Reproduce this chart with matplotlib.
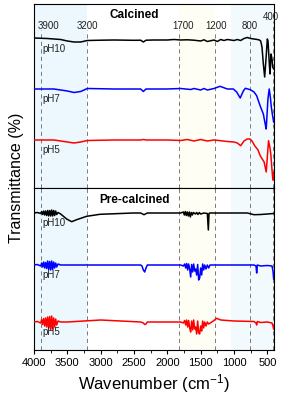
import numpy as np
import matplotlib
matplotlib.use('Agg')
import matplotlib.pyplot as plt

plt.rcParams['font.family'] = ['Liberation Sans', 'DejaVu Sans']
plt.rcParams['mathtext.default'] = 'regular'

# ---- data (relative transmittance, baseline = 0) ----
# calcined
calc_ph10_wn = [4000, 3800, 3600, 3500, 3400, 3300, 3200, 3000, 2800, 2500, 2400, 2360, 2320, 2200,
                2000, 1900, 1800, 1700, 1600, 1500, 1450, 1400, 1300, 1250, 1200, 1150, 1100, 1000,
                950, 900, 850, 800, 750, 700, 650, 620, 600, 580, 560, 540, 520, 500, 490, 470,
                460, 445, 430, 420, 405]
calc_ph10_t = [1, 0.5, -0.5, -2, -3, -3, -1.5, -1.2, -1, -1.3, -1.2, -3, -1.2, -1,
               -1, -0.5, -1, -0.8, -1.2, -2, -0.8, -2.5, -1, -2.5, -0.5, -1.5, -0.5, -1.5,
               -0.5, -1.5, 0.5, 1.5, 0.5, 0, -0.5, -1, -2, -8, -25, -38, -20, 0, -2, -25,
               -35, -15, -20, -28, -30]

calc_ph7_wn = [4000, 3700, 3500, 3400, 3300, 3200, 2800, 2400, 2360, 2320, 2000, 1800, 1650, 1600,
               1500, 1450, 1400, 1300, 1210, 1100, 1010, 960, 907, 860, 830, 755, 700, 660, 607,
               560, 532, 517, 491, 472, 455, 442, 425, 405]
calc_ph7_t = [0, 0, -2, -3.5, -2.5, 0.5, 0, 0, -2.5, 0, 0, 0.5, -0.5, 0.5,
              -1, 0.5, -1, 0.5, 2.7, 0, 0, -3, -9, -2, 0.7, -0.7, -3, -6.7, -17,
              -25, -35, -40, -10, 0, -8, -17, -25, -33]

calc_ph5_wn = [4000, 3700, 3500, 3400, 3300, 3200, 2800, 2400, 2360, 2320, 2000, 1800, 1700, 1600,
               1500, 1400, 1300, 1200, 1100, 1000, 950, 900, 850, 800, 760, 730, 690, 640, 607,
               548, 517, 482, 460, 447, 430, 417, 405]
calc_ph5_t = [0, 0, -2, -3, -2, -0.5, 0, 0, 0.5, 0, 0, -0.5, 0.5, -1,
              0.5, -1, 0, -0.7, -1.5, -2, -3, -5.7, -1, 1, 1, -1, -5.7, -10, -15.7,
              -22, -32, -0.7, -8, -15, -30, -40, -33]

# pre-calcined
pre_ph10_wn = [4000, 3950, 3900, 3885, 3870, 3855, 3840, 3825, 3810, 3795, 3780, 3765, 3750, 3735,
               3720, 3705, 3690, 3675, 3660, 3640, 3600, 3510, 3435, 3360, 3210, 3010, 2510, 2400,
               2350, 2300, 1800, 1760, 1745, 1730, 1715, 1700, 1685, 1670, 1655, 1640, 1625, 1610,
               1580, 1560, 1540, 1520, 1500, 1450, 1400, 1385, 1375, 1365, 1300, 800, 700, 600,
               500, 405]
pre_ph10_t = [0, 0.5, -0.5, 1.5, -1.5, 2, -2, 2, -2.5, 2.5, -3, 2.5, -3, 3,
              -3, 2.5, -2.5, 2, -1.5, 0.5, -1, -6, -8.7, -6.7, -3.3, -1.3, 0, 0,
              -1.7, 0, 0, 1, -2, 1.5, -2.5, 1, -3, 1, -4, 0.5, -2, 0.5,
              -1, 0.5, -1.5, 0.5, -1, 0, -0.5, -17, -0.5, 0, 0, 0, -1.7, -1.5,
              -1, -0.5]

pre_ph7_wn = [4000, 3950, 3900, 3885, 3870, 3855, 3840, 3825, 3810, 3795, 3780, 3765, 3750, 3735,
              3720, 3705, 3690, 3675, 3660, 3640, 3600, 3500, 3000, 2400, 2380, 2360, 2340, 2320,
              2300, 1800, 1760, 1740, 1725, 1710, 1695, 1680, 1665, 1650, 1635, 1620, 1605, 1590,
              1575, 1560, 1545, 1530, 1515, 1500, 1485, 1470, 1455, 1440, 1420, 1400, 1380, 1360,
              1300, 1000, 700, 670, 660, 650, 600, 500, 430, 415, 405]
pre_ph7_t = [0, 0.5, -1, 2, -2, 3, -3, 2.5, -3.5, 4, -4.5, 3.5, -5, 4,
             -4.5, 3, -3, 2, -2, 1, 0, 0, 0, 0, -1, -5, -7, -3,
             0, 0, -1, 1, -3, 1.5, -5, 1, -4, -12, 0.5, -7, 1, -6,
             -4, -10, 0.5, -15, -13, -3, -10, 1, -5, 0, -4, 0, -3, 0,
             0, 0, 0, -1, -8, 0, -1, -0.5, -1, -6, -14]

pre_ph5_wn = [4000, 3950, 3900, 3885, 3870, 3855, 3840, 3825, 3810, 3795, 3780, 3765, 3750, 3735,
              3720, 3705, 3690, 3675, 3660, 3640, 3600, 3500, 3000, 2400, 2360, 2340, 2320, 2300,
              1800, 1760, 1740, 1725, 1710, 1695, 1680, 1665, 1650, 1635, 1620, 1605, 1590, 1575,
              1560, 1545, 1530, 1515, 1500, 1485, 1470, 1455, 1440, 1420, 1400, 1380, 1300, 1260,
              1200, 1000, 700, 670, 660, 650, 600, 500, 430, 415, 405]
pre_ph5_t = [0, 0.5, -1, 2.5, -2.5, 3.5, -4, 4, -5, 5, -6, 5.5, -8, 6,
             -7, 4, -5, 3, -3, 1, 0, 0, 2, 0, -1, -2.5, -2, 0,
             0, -1, 1.5, -3, 2, -5, 1.5, -6, -10, 1, -8, 2, -7, -5,
             -12, 1, -11, -12, -4, -9, 1, -6, 0, -4, 0, -2, 1.5, 3.7,
             2, 1, 0.5, -1, -3, 0.5, -0.5, 0, -1, -4, -7]

band_wn = [3900, 3200, 1830, 1285, 755, 410]
band_labels = ['3900', '3200', '1700', '1200', '800', '400']

# ---- figure ----
fig = plt.figure(figsize=(2.92, 4.06), dpi=100)
W, H = 292, 406
ax_top = fig.add_axes([34 / W, 1 - 189 / H, 240 / W, 184 / H])
ax_bot = fig.add_axes([34 / W, 1 - 351 / H, 240 / W, 162 / H], sharex=ax_top)

for ax in (ax_top, ax_bot):
    ax.axvspan(4000, 3200, color='#ecf8fd', lw=0, zorder=0)
    ax.axvspan(1830, 1285, color='#fefef5', lw=0, zorder=0)
    ax.axvspan(1050, 400, color='#f3fafd', lw=0, zorder=0)
    for s in ax.spines.values():
        s.set_linewidth(0.8)
    ax.set_yticks([])

ax_top.set_xlim(4000, 400)
ax_top.set_ylim(-189, -5)
ax_bot.set_ylim(-351, -189)

colors = {'pH10': 'black', 'pH7': '#0000ff', 'pH5': '#ff0000'}

top_series = [('pH10', calc_ph10_wn, calc_ph10_t, -40),
              ('pH7', calc_ph7_wn, calc_ph7_t, -90),
              ('pH5', calc_ph5_wn, calc_ph5_t, -141)]
bot_series = [('pH10', pre_ph10_wn, pre_ph10_t, -214),
              ('pH7', pre_ph7_wn, pre_ph7_t, -266),
              ('pH5', pre_ph5_wn, pre_ph5_t, -323)]

for ax, series in ((ax_top, top_series), (ax_bot, bot_series)):
    for name, wn, t, off in series:
        ax.plot(wn, np.array(t) + off, color=colors[name], lw=1.1, zorder=3)
        ax.text(3870, off - 9.5, name, fontsize=7, color='#222222', ha='left', va='center', zorder=4)

# dashed guide lines
for w in band_wn:
    ytop = 0.91 if w == 410 else 0.86
    ax_top.axvline(w, ymin=0, ymax=ytop, color='#666666', lw=0.6, ls=(0, (5, 4)), zorder=1)
    ax_bot.axvline(w, color='#666666', lw=0.6, ls=(0, (5, 4)), zorder=1)

label_x = [3790, 3200, 1770, 1265, 760, 445]
for w, lab, lx in zip(band_wn, band_labels, label_x):
    y = -17 if lab == '400' else -26
    ax_top.text(lx, y, lab, fontsize=7, ha='center', va='center', color='#222222')

ax_top.text(2500, -15, 'Calcined', fontsize=8.5, fontweight='bold', ha='center', va='center')
ax_bot.text(2500, -200, 'Pre-calcined', fontsize=8.5, fontweight='bold', ha='center', va='center')

ax_top.tick_params(axis='x', which='both', bottom=False, labelbottom=False)
ax_bot.set_xticks(np.arange(4000, 400, -500))
ax_bot.set_xticks(np.arange(3750, 400, -500), minor=True)
ax_bot.tick_params(axis='x', which='major', direction='out', length=3, width=0.8, labelsize=8, pad=2)
ax_bot.tick_params(axis='x', which='minor', direction='out', length=2, width=0.6)
ax_bot.set_xlabel('Wavenumber (cm$^{-1}$)', fontsize=12, labelpad=3)

fig.text(17 / W, 1 - 178 / H, 'Transmittance (%)', rotation=90, fontsize=11.5, ha='center', va='center')

fig.savefig('out.png', dpi=100)
